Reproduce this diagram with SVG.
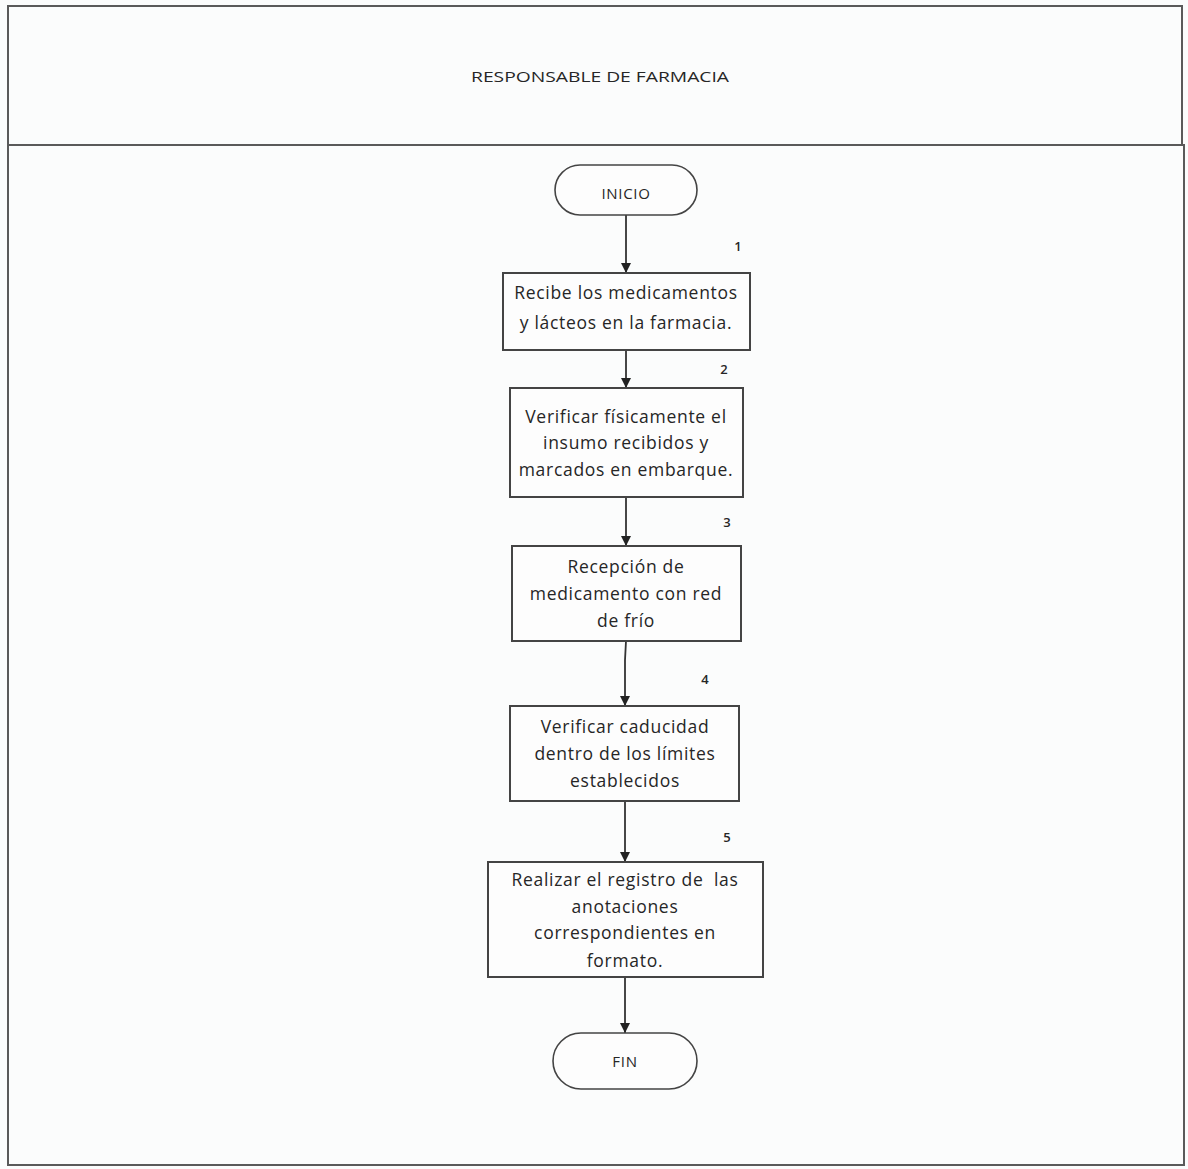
<svg xmlns="http://www.w3.org/2000/svg" width="1188" height="1169" viewBox="0 0 1188 1169">
  <style>
    .frame { fill: none; stroke: #5a5a5a; stroke-width: 2; }
    .box { fill: #fdfdfd; stroke: #444; stroke-width: 2; }
    .term { fill: #fdfdfd; stroke: #444; stroke-width: 1.6; }
    .lbl { font-family: "Open Sans", "Liberation Sans", sans-serif; font-size: 17.5px; fill: #262626; text-anchor: middle; letter-spacing: 0.7px; white-space: pre; }
    .num { font-family: "Open Sans", "Liberation Sans", sans-serif; font-size: 13px; fill: #262626; text-anchor: middle; font-weight: 600; }
    .head { font-family: "Open Sans", "Liberation Sans", sans-serif; font-size: 15px; fill: #262626; text-anchor: middle; }
    .conn { stroke: #333; stroke-width: 1.8; fill: none; marker-end: url(#arrow); }
  </style>
  <defs>
    <marker id="arrow" viewBox="0 0 10 10" refX="10" refY="5" markerWidth="10" markerHeight="10" markerUnits="userSpaceOnUse" orient="auto">
      <path d="M0,0 L10,5 L0,10 z" fill="#222"/>
    </marker>
  </defs>

  <rect x="0" y="0" width="1188" height="1169" fill="#fbfcfc"/>

  <!-- swimlane header and body -->
  <g id="lane">
    <rect class="frame" x="8" y="6" width="1174" height="139"/>
    <rect class="frame" x="8" y="145" width="1176" height="1020"/>
    <text class="head" x="600" y="82" textLength="258" lengthAdjust="spacingAndGlyphs">RESPONSABLE DE FARMACIA</text>
  </g>

  <!-- connectors -->
  <g id="connectors">
    <line class="conn" x1="626" y1="215" x2="626" y2="273"/>
    <line class="conn" x1="626" y1="350" x2="626" y2="388"/>
    <line class="conn" x1="626" y1="497" x2="626" y2="546"/>
    <polyline class="conn" points="626,641 625,660 625,706"/>
    <line class="conn" x1="625" y1="801" x2="625" y2="862"/>
    <line class="conn" x1="625" y1="977" x2="625" y2="1033"/>
  </g>

  <g id="inicio">
    <rect class="term" x="555" y="165" width="142" height="50" rx="25"/>
    <text class="lbl" x="626" y="199" style="font-size:15px">INICIO</text>
  </g>

  <g id="step1">
    <rect class="box" x="503" y="273" width="247" height="77"/>
    <text class="num" x="738" y="251">1</text>
    <text class="lbl" x="626" y="299">Recibe los medicamentos</text>
    <text class="lbl" x="626" y="329">y lácteos en la farmacia.</text>
  </g>

  <g id="step2">
    <rect class="box" x="510" y="388" width="233" height="109"/>
    <text class="num" x="724" y="374">2</text>
    <text class="lbl" x="626" y="423">Verificar físicamente el</text>
    <text class="lbl" x="626" y="449">insumo recibidos y</text>
    <text class="lbl" x="626" y="476">marcados en embarque.</text>
  </g>

  <g id="step3">
    <rect class="box" x="512" y="546" width="229" height="95"/>
    <text class="num" x="727" y="527">3</text>
    <text class="lbl" x="626" y="573">Recepción de</text>
    <text class="lbl" x="626" y="600">medicamento con red</text>
    <text class="lbl" x="626" y="627">de frío</text>
  </g>

  <g id="step4">
    <rect class="box" x="510" y="706" width="229" height="95"/>
    <text class="num" x="705" y="684">4</text>
    <text class="lbl" x="625" y="733">Verificar caducidad</text>
    <text class="lbl" x="625" y="760">dentro de los límites</text>
    <text class="lbl" x="625" y="787">establecidos</text>
  </g>

  <g id="step5">
    <rect class="box" x="488" y="862" width="275" height="115"/>
    <text class="num" x="727" y="842">5</text>
    <text class="lbl" x="625" y="886">Realizar el registro de  las</text>
    <text class="lbl" x="625" y="913">anotaciones</text>
    <text class="lbl" x="625" y="939">correspondientes en</text>
    <text class="lbl" x="625" y="967">formato.</text>
  </g>

  <g id="fin">
    <rect class="term" x="553" y="1033" width="144" height="56" rx="28"/>
    <text class="lbl" x="625" y="1067" style="font-size:15px">FIN</text>
  </g>
</svg>
